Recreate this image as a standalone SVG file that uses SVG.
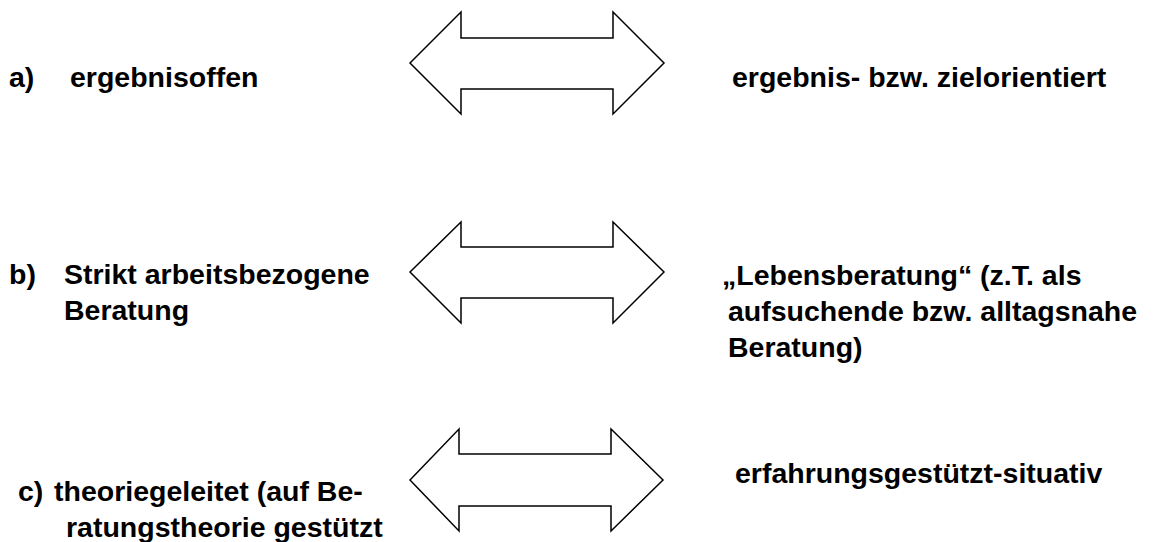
<svg xmlns="http://www.w3.org/2000/svg" width="1157" height="542" viewBox="0 0 1157 542">
  <style>
    .lbl { font-family: "Liberation Sans", Arial, sans-serif; font-weight: bold; font-size: 28.5px; fill: #000; }
    .dbl { fill: #fff; stroke: #000; stroke-width: 1.5; stroke-linejoin: miter; }
  </style>
  <rect width="1157" height="542" fill="#fff"/>

  <!-- double-headed block arrows between the two poles of each pair -->
  <g id="connectors">
    <path class="dbl" d="M410,63 L461,12 L461,38 L613,38 L613,12 L664,63 L613,114 L613,89 L461,89 L461,114 Z"/>
    <path class="dbl" d="M410,272 L461,222 L461,247 L613,247 L613,222 L664,272 L613,323 L613,298 L461,298 L461,323 Z"/>
    <path class="dbl" d="M410,480 L459,429 L459,454 L611,454 L611,429 L663,480 L611,531 L611,506 L459,506 L459,531 Z"/>
  </g>

  <!-- pair a -->
  <g id="node-a-left">
    <text class="lbl" x="9" y="87">a)</text>
    <text class="lbl" x="70" y="87">ergebnisoffen</text>
  </g>
  <g id="node-a-right">
    <text class="lbl" x="732" y="87">ergebnis- bzw. zielorientiert</text>
  </g>

  <!-- pair b -->
  <g id="node-b-left">
    <text class="lbl" x="9" y="284">b)</text>
    <text class="lbl" x="64" y="284">Strikt arbeitsbezogene</text>
    <text class="lbl" x="64" y="320">Beratung</text>
  </g>
  <g id="node-b-right">
    <text class="lbl" x="722" y="285">„Lebensberatung“ (z.T. als</text>
    <text class="lbl" x="728" y="321">aufsuchende bzw. alltagsnahe</text>
    <text class="lbl" x="728" y="357">Beratung)</text>
  </g>

  <!-- pair c -->
  <g id="node-c-left">
    <text class="lbl" x="18" y="501">c)</text>
    <text class="lbl" x="54" y="501">theoriegeleitet (auf Be-</text>
    <text class="lbl" x="66" y="537">ratungstheorie gestützt</text>
  </g>
  <g id="node-c-right">
    <text class="lbl" x="735" y="483">erfahrungsgestützt-situativ</text>
  </g>
</svg>
